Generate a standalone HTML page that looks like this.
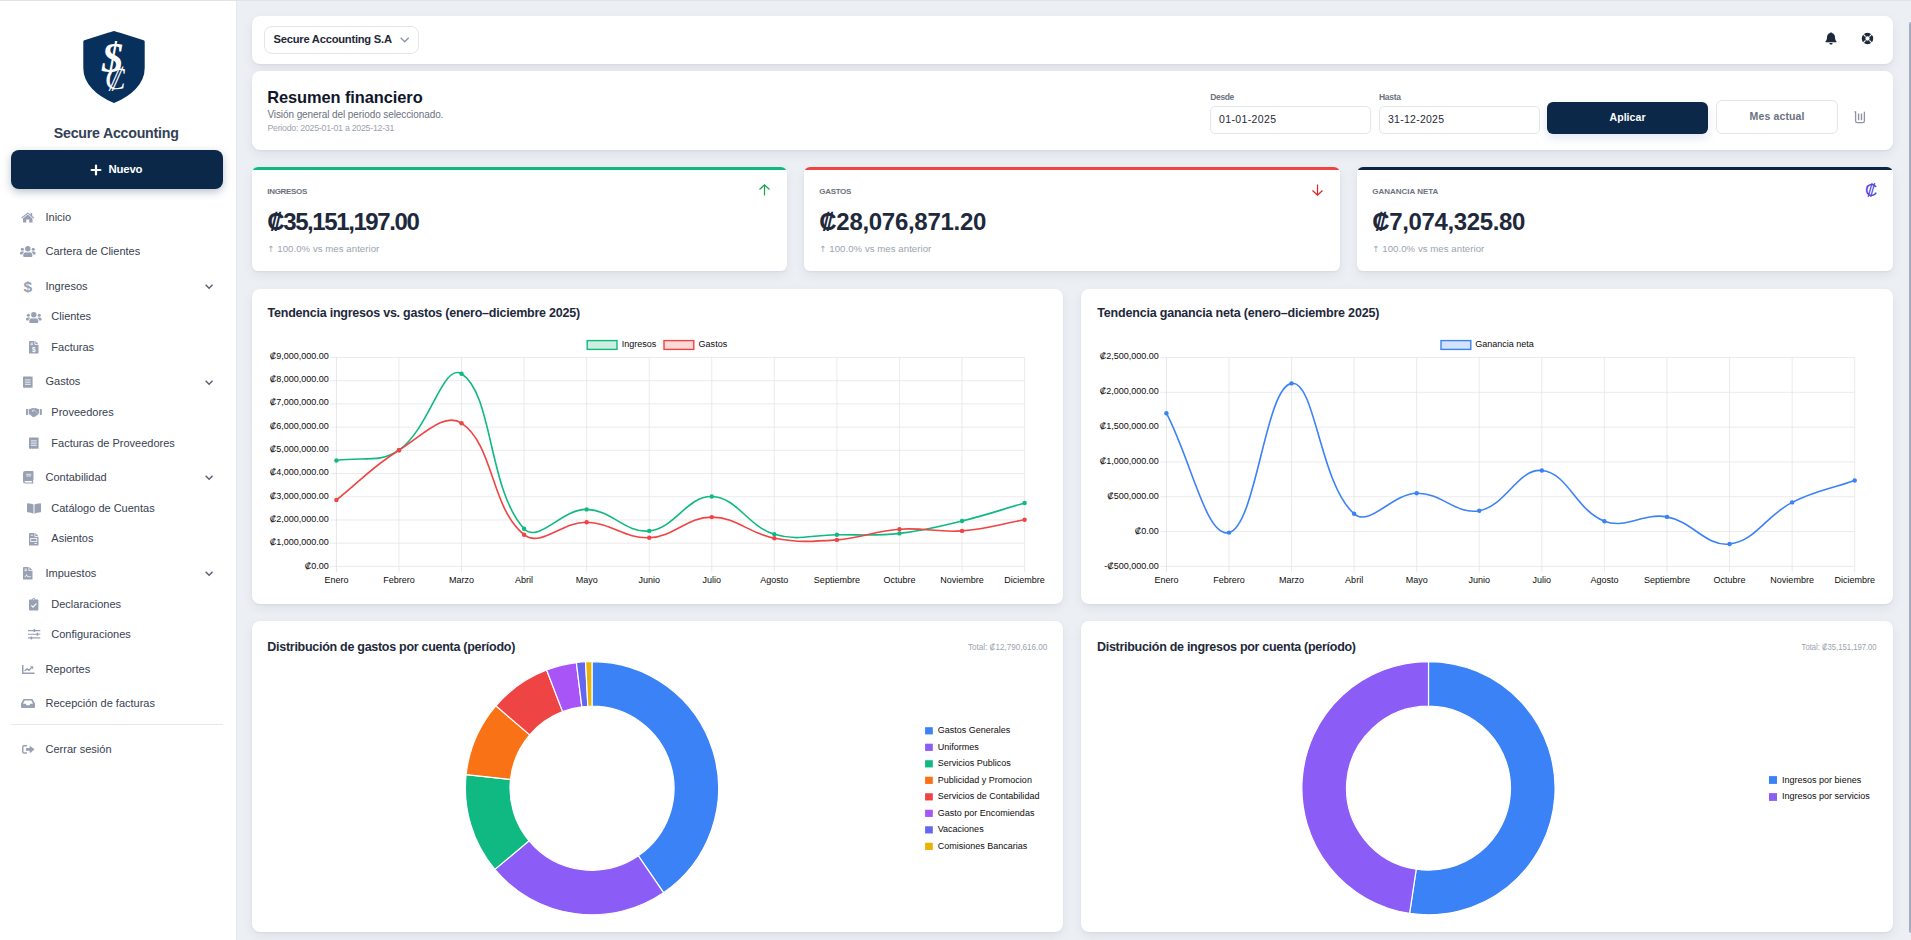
<!DOCTYPE html>
<html lang="es"><head><meta charset="utf-8"><title>Resumen financiero</title>
<style>
*{box-sizing:border-box;margin:0;padding:0}
html,body{width:1911px;height:940px;overflow:hidden;background:#eceff4;font-family:"Liberation Sans",sans-serif;}
.t{position:absolute;white-space:nowrap;line-height:1;}
.abs{position:absolute}
.card{position:absolute;background:#fff;border-radius:8px;box-shadow:0 1px 2px rgba(15,23,42,.05),0 4px 12px rgba(15,23,42,.065);}
#side{position:absolute;left:0;top:0;width:237px;height:940px;background:#fff;border-right:1px solid #e5e8ee}
svg{position:absolute;overflow:visible}
svg text{font-family:"Liberation Sans",sans-serif}
</style></head><body>
<div id="side"></div>
<svg id="logo" style="left:82px;top:30px" width="64" height="74" viewBox="0 0 64 74"><path d="M32 2.6 Q32.3 2.4 36 3.8 L61.2 11.8 V38 C61.2 53 48.5 64.5 32 71.4 C15.5 64.5 2.8 53 2.8 38 V11.8 L28 3.8 Q31.7 2.4 32 2.6 Z" fill="#07305c" stroke="#07305c" stroke-width="3" stroke-linejoin="round"/><text x="30.5" y="42" font-size="42" font-style="italic" font-weight="700" fill="#fff" text-anchor="middle" style="font-family:'Liberation Serif',serif">$</text><text x="33.5" y="59" font-size="31" fill="#fff" text-anchor="middle" transform="skewX(-6)" style="font-family:'Liberation Serif',serif;transform-origin:33px 50px">₡</text></svg>
<div class="abs" style="left:11px;top:150px;width:212px;height:39px;background:#0b2849;border-radius:8px;box-shadow:0 3px 8px rgba(11,37,69,.28)"></div>
<svg style="left:91px;top:165.2px" width="10" height="10" viewBox="0 0 10 10"><path d="M5 0.6V9.4M0.6 5H9.4" stroke="#fff" stroke-width="2.2" stroke-linecap="round"/></svg>
<svg style="left:21.15px;top:212.00px" width="13.50" height="10.80" viewBox="0 0 13.5 10.8"><path d="M6.75 2.6 L2 6.5 V10.2 Q2 10.6 2.4 10.6 H5.3 V7.6 H8.2 V10.6 H11.1 Q11.5 10.6 11.5 10.2 V6.5 Z" fill="#98a0b3"/><path d="M0.35 5.6 L6.75 0.4 L9.6 2.7 V1.1 H11.2 V4 L13.15 5.6 L12.45 6.45 L6.75 1.8 L1.05 6.45 Z" fill="#98a0b3"/></svg>
<svg style="left:20.00px;top:246.05px" width="15.60" height="10.90" viewBox="0 0 15.6 10.9"><circle cx="7.8" cy="2.75" r="2.7" fill="#98a0b3"/><path d="M3.9 10.9 Q3.2 10.9 3.2 10.1 V9.4 C3.2 7.3 4.6 6.2 6 6.2 C6.9 6.7 8.7 6.7 9.6 6.2 C11 6.2 12.4 7.3 12.4 9.4 V10.1 Q12.4 10.9 11.7 10.9 Z" fill="#98a0b3"/><circle cx="2.35" cy="3.3" r="1.55" fill="#98a0b3"/><circle cx="13.25" cy="3.3" r="1.55" fill="#98a0b3"/><path d="M0 7.7 V7.2 C0 6.1 0.8 5.4 1.6 5.4 H3.1 C3.6 5.4 4 5.6 4.3 5.9 C3.3 6.4 2.6 7.1 2.5 8.4 H0.7 Q0 8.4 0 7.7 Z" fill="#98a0b3"/><path d="M15.6 7.7 V7.2 C15.6 6.1 14.8 5.4 14 5.4 H12.5 C12 5.4 11.6 5.6 11.3 5.9 C12.3 6.4 13 7.1 13.1 8.4 H14.9 Q15.6 8.4 15.6 7.7 Z" fill="#98a0b3"/></svg>
<svg style="left:205.10px;top:283.85px" width="8.20" height="5.30" viewBox="0 0 8.2 5.3"><path d="M0.65 0.75 L4.1 4.3 L7.55 0.75" fill="none" stroke="#586171" stroke-width="1.45"/></svg>
<svg style="left:26.20px;top:311.95px" width="15.60" height="10.90" viewBox="0 0 15.6 10.9"><circle cx="7.8" cy="2.75" r="2.7" fill="#98a0b3"/><path d="M3.9 10.9 Q3.2 10.9 3.2 10.1 V9.4 C3.2 7.3 4.6 6.2 6 6.2 C6.9 6.7 8.7 6.7 9.6 6.2 C11 6.2 12.4 7.3 12.4 9.4 V10.1 Q12.4 10.9 11.7 10.9 Z" fill="#98a0b3"/><circle cx="2.35" cy="3.3" r="1.55" fill="#98a0b3"/><circle cx="13.25" cy="3.3" r="1.55" fill="#98a0b3"/><path d="M0 7.7 V7.2 C0 6.1 0.8 5.4 1.6 5.4 H3.1 C3.6 5.4 4 5.6 4.3 5.9 C3.3 6.4 2.6 7.1 2.5 8.4 H0.7 Q0 8.4 0 7.7 Z" fill="#98a0b3"/><path d="M15.6 7.7 V7.2 C15.6 6.1 14.8 5.4 14 5.4 H12.5 C12 5.4 11.6 5.6 11.3 5.9 C12.3 6.4 13 7.1 13.1 8.4 H14.9 Q15.6 8.4 15.6 7.7 Z" fill="#98a0b3"/></svg>
<svg style="left:29.25px;top:341.10px" width="9.50" height="12.60" viewBox="0 0 9.5 12.6"><path d="M0.9 0 H5.5 V3.2 Q5.5 3.9 6.2 3.9 H9.5 V11.7 Q9.5 12.6 8.6 12.6 H0.9 Q0 12.6 0 11.7 V0.9 Q0 0 0.9 0 Z M6.3 0 L9.5 3.15 H6.3 Z" fill="#98a0b3"/><rect x="1.5" y="1.7" width="2.5" height="0.8" fill="#fff"/><rect x="1.5" y="3.3" width="2.5" height="0.8" fill="#fff"/><text x="4.75" y="10.6" font-size="6.6" font-weight="700" fill="#fff" text-anchor="middle">$</text></svg>
<svg style="left:23.10px;top:376.30px" width="9.60" height="12.20" viewBox="0 0 9.6 12.2"><path d="M0 0.3 L0.8 0.9 L1.6 0 L2.4 0.9 L3.2 0 L4 0.9 L4.8 0 L5.6 0.9 L6.4 0 L7.2 0.9 L8 0 L8.8 0.9 L9.6 0.3 V11.9 L8.8 11.3 L8 12.2 L7.2 11.3 L6.4 12.2 L5.6 11.3 L4.8 12.2 L4 11.3 L3.2 12.2 L2.4 11.3 L1.6 12.2 L0.8 11.3 L0 11.9 Z" fill="#98a0b3"/><path d="M1.9 3.9 H7.7 M1.9 6.1 H7.7 M1.9 8.3 H7.7" stroke="#fff" stroke-width="0.85"/></svg>
<svg style="left:205.10px;top:379.85px" width="8.20" height="5.30" viewBox="0 0 8.2 5.3"><path d="M0.65 0.75 L4.1 4.3 L7.55 0.75" fill="none" stroke="#586171" stroke-width="1.45"/></svg>
<svg style="left:26.00px;top:407.55px" width="15.80" height="9.10" viewBox="0 0 15.8 9.1"><rect x="0" y="0.9" width="1.9" height="6" rx="0.3" fill="#98a0b3"/><rect x="13.9" y="0.9" width="1.9" height="6" rx="0.3" fill="#98a0b3"/><path d="M2.7 1.1 H4.2 L6.3 0 H9 L7.4 1 L5.9 3.1 Q6.6 4 7.6 3.3 L8.6 2.6 L12.2 5.6 Q12.6 6 12.3 6.5 L11.7 6.6 L11.2 7.5 L10.3 7.6 L9.7 8.5 L8.7 8.5 L8 9.1 Q7.2 9.4 6.5 8.8 L3.9 6.6 H2.7 Z" fill="#98a0b3"/><path d="M9.3 0 H9.9 L11.8 1.1 H13.1 V6 H12.9 L8.9 2.4 L8.1 2.3 L7.1 3 Q6.6 3.1 6.6 2.7 L7.7 1 Z" fill="#98a0b3"/></svg>
<svg style="left:29.20px;top:437.20px" width="9.60" height="12.20" viewBox="0 0 9.6 12.2"><path d="M0 0.3 L0.8 0.9 L1.6 0 L2.4 0.9 L3.2 0 L4 0.9 L4.8 0 L5.6 0.9 L6.4 0 L7.2 0.9 L8 0 L8.8 0.9 L9.6 0.3 V11.9 L8.8 11.3 L8 12.2 L7.2 11.3 L6.4 12.2 L5.6 11.3 L4.8 12.2 L4 11.3 L3.2 12.2 L2.4 11.3 L1.6 12.2 L0.8 11.3 L0 11.9 Z" fill="#98a0b3"/><path d="M1.9 3.9 H7.7 M1.9 6.1 H7.7 M1.9 8.3 H7.7" stroke="#fff" stroke-width="0.85"/></svg>
<svg style="left:22.65px;top:471.10px" width="10.50" height="12.40" viewBox="0 0 10.5 12.4"><path d="M2.2 0 H9.6 Q10.5 0 10.5 0.9 V9 Q10.5 9.6 10 9.8 V11.3 Q10.5 11.4 10.5 11.9 Q10.5 12.4 9.9 12.4 H2.2 Q0 12.4 0 10.2 V2.2 Q0 0 2.2 0 Z" fill="#98a0b3"/><path d="M2.3 10 H8.9 V11.4 H2.3 Q1.5 11.4 1.5 10.7 Q1.5 10 2.3 10 Z" fill="#fff"/><path d="M3.2 3.3 H8.2 M3.2 5 H8.2" stroke="#fff" stroke-width="0.75"/></svg>
<svg style="left:205.10px;top:474.75px" width="8.20" height="5.30" viewBox="0 0 8.2 5.3"><path d="M0.65 0.75 L4.1 4.3 L7.55 0.75" fill="none" stroke="#586171" stroke-width="1.45"/></svg>
<svg style="left:27.00px;top:502.95px" width="14.00" height="10.70" viewBox="0 0 14 10.7"><path d="M0 0.9 Q0 0.3 0.7 0.3 C3 0.4 5 0.9 6.5 1.6 V10.7 C5 10 3 9.5 0.7 9.3 Q0 9.3 0 8.7 Z M14 0.9 Q14 0.3 13.3 0.3 C11 0.4 9 0.9 7.5 1.6 V10.7 C9 10 11 9.5 13.3 9.3 Q14 9.3 14 8.7 Z" fill="#98a0b3"/></svg>
<svg style="left:29.25px;top:533.10px" width="9.50" height="12.60" viewBox="0 0 9.5 12.6"><path d="M0.9 0 H5.5 V3.2 Q5.5 3.9 6.2 3.9 H9.5 V11.7 Q9.5 12.6 8.6 12.6 H0.9 Q0 12.6 0 11.7 V0.9 Q0 0 0.9 0 Z M6.3 0 L9.5 3.15 H6.3 Z" fill="#98a0b3"/><rect x="1.7" y="1.8" width="2.4" height="0.8" fill="#fff"/><rect x="1.7" y="5.6" width="6.1" height="2.9" fill="none" stroke="#fff" stroke-width="0.8"/><rect x="5.4" y="10" width="2.4" height="0.8" fill="#fff"/></svg>
<svg style="left:23.25px;top:567.00px" width="9.50" height="12.60" viewBox="0 0 9.5 12.6"><path d="M0.9 0 H5.5 V3.2 Q5.5 3.9 6.2 3.9 H9.5 V11.7 Q9.5 12.6 8.6 12.6 H0.9 Q0 12.6 0 11.7 V0.9 Q0 0 0.9 0 Z M6.3 0 L9.5 3.15 H6.3 Z" fill="#98a0b3"/><rect x="1.5" y="1.7" width="2.5" height="0.8" fill="#fff"/><rect x="1.5" y="3.3" width="2.5" height="0.8" fill="#fff"/><path d="M1.6 9.7 H2.6 L3.5 7.6 L4.5 9.7 H7.8" fill="none" stroke="#fff" stroke-width="0.8" stroke-linejoin="round"/></svg>
<svg style="left:205.10px;top:570.75px" width="8.20" height="5.30" viewBox="0 0 8.2 5.3"><path d="M0.65 0.75 L4.1 4.3 L7.55 0.75" fill="none" stroke="#586171" stroke-width="1.45"/></svg>
<svg style="left:29.30px;top:598.05px" width="9.40" height="12.50" viewBox="0 0 9.4 12.5"><path d="M0.9 1.5 H3 Q3 0 4.7 0 Q6.4 0 6.4 1.5 H8.5 Q9.4 1.5 9.4 2.4 V11.6 Q9.4 12.5 8.5 12.5 H0.9 Q0 12.5 0 11.6 V2.4 Q0 1.5 0.9 1.5 Z" fill="#98a0b3"/><circle cx="4.7" cy="1.6" r="0.55" fill="#fff"/><path d="M2.3 7.4 L4 9.1 L7.3 5.7" fill="none" stroke="#fff" stroke-width="1.2"/></svg>
<svg style="left:27.75px;top:629.15px" width="12.30" height="10.50" viewBox="0 0 12.3 10.5"><path d="M0 1.55 H12.3 M0 5.25 H12.3 M0 8.95 H12.3" stroke="#98a0b3" stroke-width="1.15"/><rect x="5.6" y="0" width="1.55" height="3.1" rx="0.4" fill="#98a0b3"/><rect x="8.6" y="3.7" width="1.55" height="3.1" rx="0.4" fill="#98a0b3"/><rect x="2.6" y="7.4" width="1.55" height="3.1" rx="0.4" fill="#98a0b3"/></svg>
<svg style="left:21.65px;top:664.90px" width="12.50" height="9.00" viewBox="0 0 12.5 9"><path d="M0.75 0 V8.25 H12.5" fill="none" stroke="#98a0b3" stroke-width="1.5"/><path d="M2.7 5.9 L5 3.7 L6.8 5.4 L9.6 2.6" fill="none" stroke="#98a0b3" stroke-width="1.35" stroke-linejoin="round"/><path d="M7.9 1.2 H11.2 V4.5 Z" fill="#98a0b3"/></svg>
<svg style="left:21.00px;top:698.90px" width="14.00" height="9.00" viewBox="0 0 14 9"><path d="M3.1 0 H10.9 Q11.5 0 11.8 0.6 L13.9 4.6 Q14 4.8 14 5.1 V8 Q14 9 13 9 H1 Q0 9 0 8 V5.1 Q0 4.8 0.1 4.6 L2.2 0.6 Q2.5 0 3.1 0 Z M3.7 1.6 L2 4.8 H4.7 L5.5 6.3 H8.5 L9.3 4.8 H12 L10.3 1.6 Z" fill="#98a0b3" fill-rule="evenodd"/></svg>
<svg style="left:21.85px;top:745.00px" width="12.30" height="8.80" viewBox="0 0 12.3 8.8"><path d="M4.4 0.75 H2.1 Q0.75 0.75 0.75 2.1 V6.7 Q0.75 8.05 2.1 8.05 H4.4" fill="none" stroke="#98a0b3" stroke-width="1.5" stroke-linecap="round"/><path d="M4.3 3 H7.7 V1 Q7.7 0.5 8.1 0.9 L12.1 4.1 Q12.4 4.4 12.1 4.7 L8.1 7.9 Q7.7 8.3 7.7 7.8 V5.8 H4.3 Q3.9 5.8 3.9 5.4 V3.4 Q3.9 3 4.3 3 Z" fill="#98a0b3"/></svg>
<div class="abs" style="left:11px;top:724px;width:212px;height:1px;background:#e5e7eb"></div>
<div class="card" style="left:252px;top:16px;width:1641px;height:48px"></div>
<div class="abs" style="left:264px;top:26px;width:155px;height:28px;border:1px solid #e2e5ea;border-radius:8px;background:#fff"></div>
<svg style="left:400.00px;top:37.40px" width="9.40" height="5.80" viewBox="0 0 9.4 5.8"><path d="M0.7 0.8 L4.7 4.8 L8.7 0.8" fill="none" stroke="#8d95a5" stroke-width="1.35"/></svg>
<svg style="left:1825px;top:32px" width="12" height="13" viewBox="0 0 12 13"><path d="M6 0.3 C6.5 0.3 6.8 0.6 6.8 1.1 C8.8 1.5 10 3.1 10 5.2 C10 7.6 10.8 8.6 11.5 9.3 V10.2 H0.5 V9.3 C1.2 8.6 2 7.6 2 5.2 C2 3.1 3.2 1.5 5.2 1.1 C5.2 0.6 5.5 0.3 6 0.3 Z M4.4 11 H7.6 C7.6 11.9 6.9 12.6 6 12.6 S4.4 11.9 4.4 11 Z" fill="#1e293b"/></svg>
<svg style="left:1861px;top:32px" width="13" height="13" viewBox="0 0 13 13"><circle cx="6.5" cy="6.5" r="3.95" fill="none" stroke="#1e293b" stroke-width="3.6"/><path d="M2.2 2.2 L4.6 4.6 M10.8 2.2 L8.4 4.6 M2.2 10.8 L4.6 8.4 M10.8 10.8 L8.4 8.4" stroke="#fff" stroke-width="1.1"/></svg>
<div class="card" style="left:252px;top:71px;width:1641px;height:79px"></div>
<div class="abs" style="left:1210px;top:106px;width:161px;height:28px;border:1px solid #e2e5ea;border-radius:5px;background:#fff"></div>
<div class="abs" style="left:1379px;top:106px;width:161px;height:28px;border:1px solid #e2e5ea;border-radius:5px;background:#fff"></div>
<div class="abs" style="left:1547px;top:102px;width:161px;height:32px;background:#0b2849;border-radius:6px;box-shadow:0 4px 10px rgba(30,64,175,.13)"></div>
<div class="abs" style="left:1716px;top:100px;width:122px;height:34px;border:1px solid #e2e5ea;border-radius:6px;background:#fff"></div>
<svg style="left:1853.6px;top:111.3px" width="12" height="13" viewBox="0 0 12 13"><path d="M0.4 0.8 H1.6 V10 Q1.6 11.6 3.2 11.6 H8.8 Q10.4 11.6 10.4 10 V0.8" fill="none" stroke="#8d95a5" stroke-width="1.3"/><path d="M4.6 2.6 V9.2 M7.5 2.6 V9.2" stroke="#8d95a5" stroke-width="1.4"/></svg>
<div class="card" style="left:252px;top:167px;width:535px;height:104px;overflow:hidden;border-radius:6px"><div style="height:3px;background:#10b981"></div></div>
<svg style="left:759.0px;top:184.3px" width="11" height="12" viewBox="0 0 11 12"><path d="M5.5 11.5 V1 M0.5 5.5 L5.5 0.9 L10.5 5.5" fill="none" stroke="#16a34a" stroke-width="1.2"/></svg>
<div class="card" style="left:804px;top:167px;width:536px;height:104px;overflow:hidden;border-radius:6px"><div style="height:3px;background:#ef4444"></div></div>
<svg style="left:1312.0px;top:184.3px" width="11" height="12" viewBox="0 0 11 12"><path d="M5.5 0.5 V11 M0.5 6.5 L5.5 11.1 L10.5 6.5" fill="none" stroke="#dc2626" stroke-width="1.2"/></svg>
<div class="card" style="left:1357px;top:167px;width:536px;height:104px;overflow:hidden;border-radius:6px"><div style="height:3px;background:#0b2545"></div></div>
<div class="card" style="left:252px;top:289px;width:811px;height:315px"></div>
<div class="card" style="left:1081px;top:289px;width:812px;height:315px"></div>
<div class="card" style="left:252px;top:621px;width:811px;height:311px"></div>
<div class="card" style="left:1081px;top:621px;width:812px;height:311px"></div>
<svg style="left:0;top:0" width="1911" height="940" viewBox="0 0 1911 940">
<line x1="330.4" y1="566.40" x2="1024.6" y2="566.40" stroke="#e4e4e4" stroke-width="0.75"/><text transform="translate(328.80 568.70) scale(0.93 1)" font-size="9.7" fill="#0c0c0c" text-anchor="end">₡0.00</text>
<line x1="330.4" y1="543.19" x2="1024.6" y2="543.19" stroke="#e4e4e4" stroke-width="0.75"/><text transform="translate(328.80 545.38) scale(0.93 1)" font-size="9.7" fill="#0c0c0c" text-anchor="end">₡1,000,000.00</text>
<line x1="330.4" y1="519.98" x2="1024.6" y2="519.98" stroke="#e4e4e4" stroke-width="0.75"/><text transform="translate(328.80 522.06) scale(0.93 1)" font-size="9.7" fill="#0c0c0c" text-anchor="end">₡2,000,000.00</text>
<line x1="330.4" y1="496.77" x2="1024.6" y2="496.77" stroke="#e4e4e4" stroke-width="0.75"/><text transform="translate(328.80 498.74) scale(0.93 1)" font-size="9.7" fill="#0c0c0c" text-anchor="end">₡3,000,000.00</text>
<line x1="330.4" y1="473.56" x2="1024.6" y2="473.56" stroke="#e4e4e4" stroke-width="0.75"/><text transform="translate(328.80 475.42) scale(0.93 1)" font-size="9.7" fill="#0c0c0c" text-anchor="end">₡4,000,000.00</text>
<line x1="330.4" y1="450.34" x2="1024.6" y2="450.34" stroke="#e4e4e4" stroke-width="0.75"/><text transform="translate(328.80 452.10) scale(0.93 1)" font-size="9.7" fill="#0c0c0c" text-anchor="end">₡5,000,000.00</text>
<line x1="330.4" y1="427.13" x2="1024.6" y2="427.13" stroke="#e4e4e4" stroke-width="0.75"/><text transform="translate(328.80 428.78) scale(0.93 1)" font-size="9.7" fill="#0c0c0c" text-anchor="end">₡6,000,000.00</text>
<line x1="330.4" y1="403.92" x2="1024.6" y2="403.92" stroke="#e4e4e4" stroke-width="0.75"/><text transform="translate(328.80 405.46) scale(0.93 1)" font-size="9.7" fill="#0c0c0c" text-anchor="end">₡7,000,000.00</text>
<line x1="330.4" y1="380.71" x2="1024.6" y2="380.71" stroke="#e4e4e4" stroke-width="0.75"/><text transform="translate(328.80 382.14) scale(0.93 1)" font-size="9.7" fill="#0c0c0c" text-anchor="end">₡8,000,000.00</text>
<line x1="330.4" y1="357.50" x2="1024.6" y2="357.50" stroke="#e4e4e4" stroke-width="0.75"/><text transform="translate(328.80 358.82) scale(0.93 1)" font-size="9.7" fill="#0c0c0c" text-anchor="end">₡9,000,000.00</text>
<line x1="336.40" y1="357.5" x2="336.40" y2="572.4" stroke="#dcdcdc" stroke-width="0.75"/><text transform="translate(336.40 582.80) scale(0.93 1)" font-size="9.7" fill="#0c0c0c" text-anchor="middle">Enero</text>
<line x1="398.96" y1="357.5" x2="398.96" y2="572.4" stroke="#e4e4e4" stroke-width="0.75"/><text transform="translate(398.96 582.80) scale(0.93 1)" font-size="9.7" fill="#0c0c0c" text-anchor="middle">Febrero</text>
<line x1="461.53" y1="357.5" x2="461.53" y2="572.4" stroke="#e4e4e4" stroke-width="0.75"/><text transform="translate(461.53 582.80) scale(0.93 1)" font-size="9.7" fill="#0c0c0c" text-anchor="middle">Marzo</text>
<line x1="524.09" y1="357.5" x2="524.09" y2="572.4" stroke="#e4e4e4" stroke-width="0.75"/><text transform="translate(524.09 582.80) scale(0.93 1)" font-size="9.7" fill="#0c0c0c" text-anchor="middle">Abril</text>
<line x1="586.65" y1="357.5" x2="586.65" y2="572.4" stroke="#e4e4e4" stroke-width="0.75"/><text transform="translate(586.65 582.80) scale(0.93 1)" font-size="9.7" fill="#0c0c0c" text-anchor="middle">Mayo</text>
<line x1="649.22" y1="357.5" x2="649.22" y2="572.4" stroke="#e4e4e4" stroke-width="0.75"/><text transform="translate(649.22 582.80) scale(0.93 1)" font-size="9.7" fill="#0c0c0c" text-anchor="middle">Junio</text>
<line x1="711.78" y1="357.5" x2="711.78" y2="572.4" stroke="#e4e4e4" stroke-width="0.75"/><text transform="translate(711.78 582.80) scale(0.93 1)" font-size="9.7" fill="#0c0c0c" text-anchor="middle">Julio</text>
<line x1="774.35" y1="357.5" x2="774.35" y2="572.4" stroke="#e4e4e4" stroke-width="0.75"/><text transform="translate(774.35 582.80) scale(0.93 1)" font-size="9.7" fill="#0c0c0c" text-anchor="middle">Agosto</text>
<line x1="836.91" y1="357.5" x2="836.91" y2="572.4" stroke="#e4e4e4" stroke-width="0.75"/><text transform="translate(836.91 582.80) scale(0.93 1)" font-size="9.7" fill="#0c0c0c" text-anchor="middle">Septiembre</text>
<line x1="899.47" y1="357.5" x2="899.47" y2="572.4" stroke="#e4e4e4" stroke-width="0.75"/><text transform="translate(899.47 582.80) scale(0.93 1)" font-size="9.7" fill="#0c0c0c" text-anchor="middle">Octubre</text>
<line x1="962.04" y1="357.5" x2="962.04" y2="572.4" stroke="#e4e4e4" stroke-width="0.75"/><text transform="translate(962.04 582.80) scale(0.93 1)" font-size="9.7" fill="#0c0c0c" text-anchor="middle">Noviembre</text>
<line x1="1024.60" y1="357.5" x2="1024.60" y2="572.4" stroke="#e4e4e4" stroke-width="0.75"/><text transform="translate(1024.60 582.80) scale(0.93 1)" font-size="9.7" fill="#0c0c0c" text-anchor="middle">Diciembre</text>
<path d="M336.40 460.50 C361.43 456.38 379.39 463.76 398.96 450.20 C429.44 429.08 442.93 362.13 461.53 373.80 C492.98 393.53 488.13 489.73 524.09 528.70 C538.18 543.97 561.76 508.96 586.65 509.40 C611.81 509.84 625.15 533.38 649.22 530.90 C675.20 528.22 687.05 495.83 711.78 496.50 C737.10 497.19 747.38 526.07 774.35 534.30 C797.43 541.35 811.89 534.88 836.91 534.70 C861.94 534.52 874.69 536.11 899.47 533.40 C924.74 530.63 937.27 527.02 962.04 521.00 C987.32 514.86 999.57 510.20 1024.60 503.00" fill="none" stroke="#10b981" stroke-width="1.6"/>
<circle cx="336.40" cy="460.50" r="2.2" fill="#10b981"/><circle cx="398.96" cy="450.20" r="2.2" fill="#10b981"/><circle cx="461.53" cy="373.80" r="2.2" fill="#10b981"/><circle cx="524.09" cy="528.70" r="2.2" fill="#10b981"/><circle cx="586.65" cy="509.40" r="2.2" fill="#10b981"/><circle cx="649.22" cy="530.90" r="2.2" fill="#10b981"/><circle cx="711.78" cy="496.50" r="2.2" fill="#10b981"/><circle cx="774.35" cy="534.30" r="2.2" fill="#10b981"/><circle cx="836.91" cy="534.70" r="2.2" fill="#10b981"/><circle cx="899.47" cy="533.40" r="2.2" fill="#10b981"/><circle cx="962.04" cy="521.00" r="2.2" fill="#10b981"/><circle cx="1024.60" cy="503.00" r="2.2" fill="#10b981"/>
<path d="M336.40 500.00 C361.43 480.08 371.94 466.79 398.96 450.20 C421.99 436.07 444.13 411.45 461.53 423.20 C494.18 445.25 490.70 508.25 524.09 534.70 C540.75 547.89 561.76 521.70 586.65 522.30 C611.81 522.90 624.47 538.73 649.22 537.70 C674.52 536.65 686.79 517.00 711.78 517.10 C736.84 517.20 748.65 533.52 774.35 538.20 C798.70 542.64 812.06 541.69 836.91 539.90 C862.11 538.09 874.27 531.01 899.47 529.20 C924.32 527.41 937.20 532.79 962.04 530.90 C987.25 528.99 999.57 524.18 1024.60 519.70" fill="none" stroke="#ef4444" stroke-width="1.6"/>
<circle cx="336.40" cy="500.00" r="2.2" fill="#ef4444"/><circle cx="398.96" cy="450.20" r="2.2" fill="#ef4444"/><circle cx="461.53" cy="423.20" r="2.2" fill="#ef4444"/><circle cx="524.09" cy="534.70" r="2.2" fill="#ef4444"/><circle cx="586.65" cy="522.30" r="2.2" fill="#ef4444"/><circle cx="649.22" cy="537.70" r="2.2" fill="#ef4444"/><circle cx="711.78" cy="517.10" r="2.2" fill="#ef4444"/><circle cx="774.35" cy="538.20" r="2.2" fill="#ef4444"/><circle cx="836.91" cy="539.90" r="2.2" fill="#ef4444"/><circle cx="899.47" cy="529.20" r="2.2" fill="#ef4444"/><circle cx="962.04" cy="530.90" r="2.2" fill="#ef4444"/><circle cx="1024.60" cy="519.70" r="2.2" fill="#ef4444"/>
<rect x="587.2" y="340.6" width="29.8" height="8.8" fill="#cfeee2" stroke="#10b981" stroke-width="1.4"/><text transform="translate(621.70 347.00) scale(0.93 1)" font-size="9.7" fill="#0c0c0c" text-anchor="start">Ingresos</text>
<rect x="664" y="340.6" width="29.8" height="8.8" fill="#fcd9d9" stroke="#ef4444" stroke-width="1.4"/><text transform="translate(698.60 347.00) scale(0.93 1)" font-size="9.7" fill="#0c0c0c" text-anchor="start">Gastos</text>
<line x1="1160.4" y1="566.40" x2="1854.7" y2="566.40" stroke="#e4e4e4" stroke-width="0.75"/><text transform="translate(1158.80 568.70) scale(0.93 1)" font-size="9.7" fill="#0c0c0c" text-anchor="end">-₡500,000.00</text>
<line x1="1160.4" y1="531.58" x2="1854.7" y2="531.58" stroke="#e4e4e4" stroke-width="0.75"/><text transform="translate(1158.80 533.72) scale(0.93 1)" font-size="9.7" fill="#0c0c0c" text-anchor="end">₡0.00</text>
<line x1="1160.4" y1="496.77" x2="1854.7" y2="496.77" stroke="#e4e4e4" stroke-width="0.75"/><text transform="translate(1158.80 498.74) scale(0.93 1)" font-size="9.7" fill="#0c0c0c" text-anchor="end">₡500,000.00</text>
<line x1="1160.4" y1="461.95" x2="1854.7" y2="461.95" stroke="#e4e4e4" stroke-width="0.75"/><text transform="translate(1158.80 463.76) scale(0.93 1)" font-size="9.7" fill="#0c0c0c" text-anchor="end">₡1,000,000.00</text>
<line x1="1160.4" y1="427.13" x2="1854.7" y2="427.13" stroke="#e4e4e4" stroke-width="0.75"/><text transform="translate(1158.80 428.78) scale(0.93 1)" font-size="9.7" fill="#0c0c0c" text-anchor="end">₡1,500,000.00</text>
<line x1="1160.4" y1="392.32" x2="1854.7" y2="392.32" stroke="#e4e4e4" stroke-width="0.75"/><text transform="translate(1158.80 393.80) scale(0.93 1)" font-size="9.7" fill="#0c0c0c" text-anchor="end">₡2,000,000.00</text>
<line x1="1160.4" y1="357.50" x2="1854.7" y2="357.50" stroke="#e4e4e4" stroke-width="0.75"/><text transform="translate(1158.80 358.82) scale(0.93 1)" font-size="9.7" fill="#0c0c0c" text-anchor="end">₡2,500,000.00</text>
<line x1="1166.40" y1="357.5" x2="1166.40" y2="572.4" stroke="#dcdcdc" stroke-width="0.75"/><text transform="translate(1166.40 582.80) scale(0.93 1)" font-size="9.7" fill="#0c0c0c" text-anchor="middle">Enero</text>
<line x1="1228.97" y1="357.5" x2="1228.97" y2="572.4" stroke="#e4e4e4" stroke-width="0.75"/><text transform="translate(1228.97 582.80) scale(0.93 1)" font-size="9.7" fill="#0c0c0c" text-anchor="middle">Febrero</text>
<line x1="1291.55" y1="357.5" x2="1291.55" y2="572.4" stroke="#e4e4e4" stroke-width="0.75"/><text transform="translate(1291.55 582.80) scale(0.93 1)" font-size="9.7" fill="#0c0c0c" text-anchor="middle">Marzo</text>
<line x1="1354.12" y1="357.5" x2="1354.12" y2="572.4" stroke="#e4e4e4" stroke-width="0.75"/><text transform="translate(1354.12 582.80) scale(0.93 1)" font-size="9.7" fill="#0c0c0c" text-anchor="middle">Abril</text>
<line x1="1416.69" y1="357.5" x2="1416.69" y2="572.4" stroke="#e4e4e4" stroke-width="0.75"/><text transform="translate(1416.69 582.80) scale(0.93 1)" font-size="9.7" fill="#0c0c0c" text-anchor="middle">Mayo</text>
<line x1="1479.26" y1="357.5" x2="1479.26" y2="572.4" stroke="#e4e4e4" stroke-width="0.75"/><text transform="translate(1479.26 582.80) scale(0.93 1)" font-size="9.7" fill="#0c0c0c" text-anchor="middle">Junio</text>
<line x1="1541.84" y1="357.5" x2="1541.84" y2="572.4" stroke="#e4e4e4" stroke-width="0.75"/><text transform="translate(1541.84 582.80) scale(0.93 1)" font-size="9.7" fill="#0c0c0c" text-anchor="middle">Julio</text>
<line x1="1604.41" y1="357.5" x2="1604.41" y2="572.4" stroke="#e4e4e4" stroke-width="0.75"/><text transform="translate(1604.41 582.80) scale(0.93 1)" font-size="9.7" fill="#0c0c0c" text-anchor="middle">Agosto</text>
<line x1="1666.98" y1="357.5" x2="1666.98" y2="572.4" stroke="#e4e4e4" stroke-width="0.75"/><text transform="translate(1666.98 582.80) scale(0.93 1)" font-size="9.7" fill="#0c0c0c" text-anchor="middle">Septiembre</text>
<line x1="1729.55" y1="357.5" x2="1729.55" y2="572.4" stroke="#e4e4e4" stroke-width="0.75"/><text transform="translate(1729.55 582.80) scale(0.93 1)" font-size="9.7" fill="#0c0c0c" text-anchor="middle">Octubre</text>
<line x1="1792.13" y1="357.5" x2="1792.13" y2="572.4" stroke="#e4e4e4" stroke-width="0.75"/><text transform="translate(1792.13 582.80) scale(0.93 1)" font-size="9.7" fill="#0c0c0c" text-anchor="middle">Noviembre</text>
<line x1="1854.70" y1="357.5" x2="1854.70" y2="572.4" stroke="#e4e4e4" stroke-width="0.75"/><text transform="translate(1854.70 582.80) scale(0.93 1)" font-size="9.7" fill="#0c0c0c" text-anchor="middle">Diciembre</text>
<path d="M1166.40 413.20 C1191.43 460.96 1206.22 538.02 1228.97 532.60 C1256.28 526.10 1265.12 387.37 1291.55 383.40 C1315.17 379.85 1319.72 483.62 1354.12 513.80 C1369.78 527.54 1391.49 493.82 1416.69 493.20 C1441.55 492.58 1455.92 514.93 1479.26 510.70 C1505.98 505.85 1517.80 468.48 1541.84 470.50 C1567.86 472.68 1576.27 510.77 1604.41 521.20 C1626.33 529.33 1643.00 512.53 1666.98 516.90 C1693.06 521.65 1705.74 546.76 1729.55 544.00 C1755.80 540.96 1765.53 515.89 1792.13 502.40 C1815.59 490.49 1829.67 489.26 1854.70 480.50" fill="none" stroke="#3b82f6" stroke-width="1.6"/>
<circle cx="1166.40" cy="413.20" r="2.2" fill="#3b82f6"/><circle cx="1228.97" cy="532.60" r="2.2" fill="#3b82f6"/><circle cx="1291.55" cy="383.40" r="2.2" fill="#3b82f6"/><circle cx="1354.12" cy="513.80" r="2.2" fill="#3b82f6"/><circle cx="1416.69" cy="493.20" r="2.2" fill="#3b82f6"/><circle cx="1479.26" cy="510.70" r="2.2" fill="#3b82f6"/><circle cx="1541.84" cy="470.50" r="2.2" fill="#3b82f6"/><circle cx="1604.41" cy="521.20" r="2.2" fill="#3b82f6"/><circle cx="1666.98" cy="516.90" r="2.2" fill="#3b82f6"/><circle cx="1729.55" cy="544.00" r="2.2" fill="#3b82f6"/><circle cx="1792.13" cy="502.40" r="2.2" fill="#3b82f6"/><circle cx="1854.70" cy="480.50" r="2.2" fill="#3b82f6"/>
<rect x="1441" y="340.6" width="29.8" height="8.8" fill="#d3e3fb" stroke="#3b82f6" stroke-width="1.4"/><text transform="translate(1475.20 347.00) scale(0.93 1)" font-size="9.7" fill="#0c0c0c" text-anchor="start">Ganancia neta</text>
<path d="M592.00 661.60 A126.60 126.60 0 0 1 663.52 892.66 L638.33 855.86 A82.00 82.00 0 0 0 592.00 706.20 Z" fill="#3b82f6" stroke="#fff" stroke-width="1.2" stroke-linejoin="round"/><path d="M663.52 892.66 A126.60 126.60 0 0 1 494.88 869.41 L529.09 840.80 A82.00 82.00 0 0 0 638.33 855.86 Z" fill="#8b5cf6" stroke="#fff" stroke-width="1.2" stroke-linejoin="round"/><path d="M494.88 869.41 A126.60 126.60 0 0 1 466.14 774.53 L510.48 779.34 A82.00 82.00 0 0 0 529.09 840.80 Z" fill="#10b981" stroke="#fff" stroke-width="1.2" stroke-linejoin="round"/><path d="M466.14 774.53 A126.60 126.60 0 0 1 495.88 705.81 L529.74 734.84 A82.00 82.00 0 0 0 510.48 779.34 Z" fill="#f97316" stroke="#fff" stroke-width="1.2" stroke-linejoin="round"/><path d="M495.88 705.81 A126.60 126.60 0 0 1 546.63 670.01 L562.61 711.65 A82.00 82.00 0 0 0 529.74 734.84 Z" fill="#ef4444" stroke="#fff" stroke-width="1.2" stroke-linejoin="round"/><path d="M546.63 670.01 A126.60 126.60 0 0 1 576.35 662.57 L581.86 706.83 A82.00 82.00 0 0 0 562.61 711.65 Z" fill="#a855f7" stroke="#fff" stroke-width="1.2" stroke-linejoin="round"/><path d="M576.35 662.57 A126.60 126.60 0 0 1 585.59 661.76 L587.85 706.31 A82.00 82.00 0 0 0 581.86 706.83 Z" fill="#6366f1" stroke="#fff" stroke-width="1.2" stroke-linejoin="round"/><path d="M585.59 661.76 A126.60 126.60 0 0 1 592.00 661.60 L592.00 706.20 A82.00 82.00 0 0 0 587.85 706.31 Z" fill="#eab308" stroke="#fff" stroke-width="1.2" stroke-linejoin="round"/><rect x="925.1" y="727.20" width="7.7" height="7.2" fill="#3b82f6"/><text transform="translate(937.70 733.00) scale(0.93 1)" font-size="9.7" fill="#0c0c0c" text-anchor="start">Gastos Generales</text>
<rect x="925.1" y="743.71" width="7.7" height="7.2" fill="#8b5cf6"/><text transform="translate(937.70 750.00) scale(0.93 1)" font-size="9.7" fill="#0c0c0c" text-anchor="start">Uniformes</text>
<rect x="925.1" y="760.22" width="7.7" height="7.2" fill="#10b981"/><text transform="translate(937.70 766.00) scale(0.93 1)" font-size="9.7" fill="#0c0c0c" text-anchor="start">Servicios Publicos</text>
<rect x="925.1" y="776.73" width="7.7" height="7.2" fill="#f97316"/><text transform="translate(937.70 783.00) scale(0.93 1)" font-size="9.7" fill="#0c0c0c" text-anchor="start">Publicidad y Promocion</text>
<rect x="925.1" y="793.24" width="7.7" height="7.2" fill="#ef4444"/><text transform="translate(937.70 799.00) scale(0.93 1)" font-size="9.7" fill="#0c0c0c" text-anchor="start">Servicios de Contabilidad</text>
<rect x="925.1" y="809.75" width="7.7" height="7.2" fill="#a855f7"/><text transform="translate(937.70 816.00) scale(0.93 1)" font-size="9.7" fill="#0c0c0c" text-anchor="start">Gasto por Encomiendas</text>
<rect x="925.1" y="826.26" width="7.7" height="7.2" fill="#6366f1"/><text transform="translate(937.70 832.00) scale(0.93 1)" font-size="9.7" fill="#0c0c0c" text-anchor="start">Vacaciones</text>
<rect x="925.1" y="842.77" width="7.7" height="7.2" fill="#eab308"/><text transform="translate(937.70 849.00) scale(0.93 1)" font-size="9.7" fill="#0c0c0c" text-anchor="start">Comisiones Bancarias</text>
<path d="M1428.50 661.60 A126.60 126.60 0 1 1 1409.57 913.38 L1416.24 869.28 A82.00 82.00 0 1 0 1428.50 706.20 Z" fill="#3b82f6" stroke="#fff" stroke-width="1.2" stroke-linejoin="round"/><path d="M1409.57 913.38 A126.60 126.60 0 0 1 1428.50 661.60 L1428.50 706.20 A82.00 82.00 0 0 0 1416.24 869.28 Z" fill="#8b5cf6" stroke="#fff" stroke-width="1.2" stroke-linejoin="round"/><rect x="1769" y="776.1" width="8" height="7.8" fill="#3b82f6"/><text transform="translate(1782.00 783.00) scale(0.93 1)" font-size="9.7" fill="#0c0c0c" text-anchor="start">Ingresos por bienes</text>
<rect x="1769" y="793.1" width="8" height="7.8" fill="#8b5cf6"/><text transform="translate(1782.00 799.00) scale(0.93 1)" font-size="9.7" fill="#0c0c0c" text-anchor="start">Ingresos por servicios</text>
</svg>
<div class="abs" style="left:0;top:0;width:1911px;height:1px;background:#e2e4e2"></div>
<div class="abs" style="left:1909px;top:22px;width:4px;height:911px;background:#a3adbf;border-radius:2px"></div>
<svg style="left:0;top:0" width="1911" height="940" viewBox="0 0 1911 940">
<text x="116.30" y="138.00" font-size="14.2" fill="#334155" text-anchor="middle" textLength="125.00" lengthAdjust="spacing" font-weight="700">Secure Accounting</text>
<text x="108.50" y="173.00" font-size="11.4" fill="#fff" text-anchor="start" textLength="34.00" lengthAdjust="spacing" font-weight="700">Nuevo</text>
<text x="45.50" y="221.00" font-size="11" fill="#374151" text-anchor="start" textLength="25.60" lengthAdjust="spacing">Inicio</text>
<text x="45.50" y="255.00" font-size="11" fill="#374151" text-anchor="start" textLength="94.70" lengthAdjust="spacing">Cartera de Clientes</text>
<text x="45.50" y="290.00" font-size="11" fill="#374151" text-anchor="start" textLength="42.00" lengthAdjust="spacing">Ingresos</text>
<text x="27.70" y="292.00" font-size="15.5" fill="#98a0b3" text-anchor="middle" font-weight="700">$</text>
<text x="51.30" y="320.00" font-size="11" fill="#374151" text-anchor="start">Clientes</text>
<text x="51.30" y="351.00" font-size="11" fill="#374151" text-anchor="start">Facturas</text>
<text x="45.50" y="385.00" font-size="11" fill="#374151" text-anchor="start">Gastos</text>
<text x="51.30" y="416.00" font-size="11" fill="#374151" text-anchor="start">Proveedores</text>
<text x="51.30" y="447.00" font-size="11" fill="#374151" text-anchor="start">Facturas de Proveedores</text>
<text x="45.50" y="481.00" font-size="11" fill="#374151" text-anchor="start">Contabilidad</text>
<text x="51.30" y="512.00" font-size="11" fill="#374151" text-anchor="start">Catálogo de Cuentas</text>
<text x="51.30" y="542.00" font-size="11" fill="#374151" text-anchor="start">Asientos</text>
<text x="45.50" y="577.00" font-size="11" fill="#374151" text-anchor="start">Impuestos</text>
<text x="51.30" y="608.00" font-size="11" fill="#374151" text-anchor="start">Declaraciones</text>
<text x="51.30" y="638.00" font-size="11" fill="#374151" text-anchor="start">Configuraciones</text>
<text x="45.50" y="673.00" font-size="11" fill="#374151" text-anchor="start">Reportes</text>
<text x="45.50" y="707.00" font-size="11" fill="#374151" text-anchor="start">Recepción de facturas</text>
<text x="45.50" y="753.00" font-size="11" fill="#374151" text-anchor="start">Cerrar sesión</text>
<text x="273.50" y="43.00" font-size="11.2" fill="#1f2937" text-anchor="start" textLength="118.50" lengthAdjust="spacing" font-weight="700">Secure Accounting S.A</text>
<text x="267.20" y="103.00" font-size="16.4" fill="#0f172a" text-anchor="start" textLength="155.50" lengthAdjust="spacing" font-weight="700">Resumen financiero</text>
<text x="267.40" y="118.00" font-size="10" fill="#6b7280" text-anchor="start" textLength="176.00" lengthAdjust="spacing">Visión general del periodo seleccionado.</text>
<text x="267.40" y="131.00" font-size="8.8" fill="#9ca3af" text-anchor="start" textLength="127.00" lengthAdjust="spacing">Periodo: 2025-01-01 a 2025-12-31</text>
<text x="1210.30" y="100.00" font-size="8.5" fill="#6b7280" text-anchor="start" textLength="24.00" lengthAdjust="spacing" font-weight="700">Desde</text>
<text x="1379.00" y="100.00" font-size="8.5" fill="#6b7280" text-anchor="start" textLength="22.00" lengthAdjust="spacing" font-weight="700">Hasta</text>
<text x="1219.00" y="123.00" font-size="10.5" fill="#1f2937" text-anchor="start" textLength="57.00" lengthAdjust="spacing">01-01-2025</text>
<text x="1388.00" y="123.00" font-size="10.5" fill="#1f2937" text-anchor="start" textLength="56.00" lengthAdjust="spacing">31-12-2025</text>
<text x="1627.50" y="121.00" font-size="10.5" fill="#fff" text-anchor="middle" textLength="36.00" lengthAdjust="spacing" font-weight="700">Aplicar</text>
<text x="1777.00" y="120.00" font-size="10.5" fill="#6b7280" text-anchor="middle" textLength="55.00" lengthAdjust="spacing" font-weight="700">Mes actual</text>
<text x="267.30" y="194.00" font-size="8.0" fill="#6b7280" text-anchor="start" textLength="40.00" lengthAdjust="spacing" font-weight="700">INGRESOS</text>
<text x="267.30" y="230.00" font-size="24" fill="#1e293b" text-anchor="start" textLength="152.50" lengthAdjust="spacing" font-weight="700">₡35,151,197.00</text>
<text x="267.30" y="252.00" font-size="9.6" fill="#9ca3af" text-anchor="start" textLength="112.00" lengthAdjust="spacing"><tspan style="font-family:'DejaVu Sans',sans-serif" font-size="8.6">↑</tspan> 100.0% vs mes anterior</text>
<text x="819.30" y="194.00" font-size="8.0" fill="#6b7280" text-anchor="start" textLength="32.00" lengthAdjust="spacing" font-weight="700">GASTOS</text>
<text x="819.30" y="230.00" font-size="24" fill="#1e293b" text-anchor="start" textLength="167.00" lengthAdjust="spacing" font-weight="700">₡28,076,871.20</text>
<text x="819.30" y="252.00" font-size="9.6" fill="#9ca3af" text-anchor="start" textLength="112.00" lengthAdjust="spacing"><tspan style="font-family:'DejaVu Sans',sans-serif" font-size="8.6">↑</tspan> 100.0% vs mes anterior</text>
<text x="1372.30" y="194.00" font-size="8.0" fill="#6b7280" text-anchor="start" textLength="66.00" lengthAdjust="spacing" font-weight="700">GANANCIA NETA</text>
<text x="1372.30" y="230.00" font-size="24" fill="#1e293b" text-anchor="start" textLength="153.00" lengthAdjust="spacing" font-weight="700">₡7,074,325.80</text>
<text x="1372.30" y="252.00" font-size="9.6" fill="#9ca3af" text-anchor="start" textLength="112.00" lengthAdjust="spacing"><tspan style="font-family:'DejaVu Sans',sans-serif" font-size="8.6">↑</tspan> 100.0% vs mes anterior</text>
<text x="1871.10" y="196.00" font-size="17" fill="#4f46e5" text-anchor="middle">₡</text>
<text x="267.60" y="317.00" font-size="12.5" fill="#1e293b" text-anchor="start" textLength="312.50" lengthAdjust="spacing" font-weight="700">Tendencia ingresos vs. gastos (enero–diciembre 2025)</text>
<text x="1097.30" y="317.00" font-size="12.5" fill="#1e293b" text-anchor="start" textLength="282.00" lengthAdjust="spacing" font-weight="700">Tendencia ganancia neta (enero–diciembre 2025)</text>
<text x="267.30" y="651.00" font-size="12.5" fill="#1e293b" text-anchor="start" textLength="248.00" lengthAdjust="spacing" font-weight="700">Distribución de gastos por cuenta (período)</text>
<text x="1097.00" y="651.00" font-size="12.5" fill="#1e293b" text-anchor="start" textLength="259.00" lengthAdjust="spacing" font-weight="700">Distribución de ingresos por cuenta (período)</text>
<text x="1047.20" y="650.00" font-size="8.7" fill="#9ca3af" text-anchor="end" textLength="79.20" lengthAdjust="spacingAndGlyphs">Total: ₡12,790,616.00</text>
<text x="1876.60" y="650.00" font-size="8.7" fill="#9ca3af" text-anchor="end" textLength="75.00" lengthAdjust="spacingAndGlyphs">Total: ₡35,151,197.00</text>
</svg>
</body></html>
